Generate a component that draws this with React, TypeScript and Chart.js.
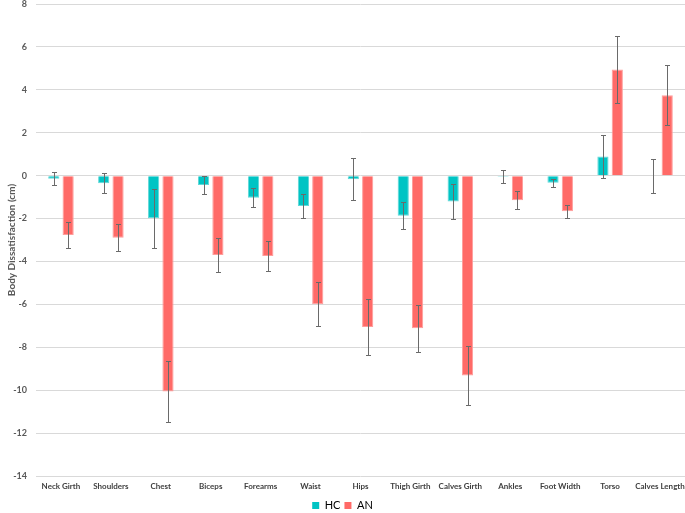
import React, { useEffect, useRef } from "react";
import { Chart, registerables } from "chart.js";

Chart.register(...registerables);

const categories = ["Neck Girth", "Shoulders", "Chest", "Biceps", "Forearms", "Waist", "Hips", "Thigh Girth", "Calves Girth", "Ankles", "Foot Width", "Torso", "Calves Length"];
const hcValues = [-0.15, -0.36, -1.99, -0.44, -1.03, -1.42, -0.17, -1.87, -1.21, -0.05, -0.33, 0.89, -0.03];
const hcErrors = [0.3, 0.47, 1.36, 0.42, 0.44, 0.56, 0.98, 0.63, 0.82, 0.31, 0.18, 1.02, 0.8];
const anValues = [-2.77, -2.89, -10.06, -3.7, -3.75, -6.0, -7.06, -7.11, -9.32, -1.15, -1.66, 4.95, 3.75];
const anErrors = [0.6, 0.64, 1.42, 0.77, 0.69, 1.03, 1.3, 1.1, 1.38, 0.42, 0.3, 1.57, 1.39];

const errorBarPlugin = {
  id: "errorBars",
  afterDatasetsDraw(chart: any) {
    const ctx = chart.ctx;
    const yScale = chart.scales.y;
    chart.data.datasets.forEach((ds: any, di: number) => {
      const meta = chart.getDatasetMeta(di);
      const errs = ds.errors as number[];
      meta.data.forEach((bar: any, i: number) => {
        const v = ds.data[i];
        const e = errs[i];
        const yTop = Math.round(yScale.getPixelForValue(v + e)) + 0.5;
        const yBot = Math.round(yScale.getPixelForValue(v - e)) + 0.5;
        const x = Math.round(bar.x) + 0.5;
        ctx.save();
        ctx.strokeStyle = "#6a6a6a";
        ctx.lineWidth = 1;
        ctx.beginPath();
        ctx.moveTo(x, yTop);
        ctx.lineTo(x, yBot);
        ctx.moveTo(x - 2.5, yTop);
        ctx.lineTo(x + 2.5, yTop);
        ctx.moveTo(x - 2.5, yBot);
        ctx.lineTo(x + 2.5, yBot);
        ctx.stroke();
        ctx.restore();
      });
    });
  },
};

function patchLegend(chart: any) {
  const legend = chart.legend;
  if (legend && !legend.__patched) {
    const orig = legend.fit;
    legend.fit = function () {
      orig.call(this);
      this.height = 17;
    };
    legend.__patched = true;
  }
}

const legendSizePlugin = {
  id: "legendSize",
  beforeInit(chart: any) {
    patchLegend(chart);
  },
  afterInit(chart: any) {
    patchLegend(chart);
  },
};

export default function App() {
  const ref = useRef<HTMLCanvasElement>(null);
  useEffect(() => {
    if (!ref.current) return;
    const font = "Lato, 'Open Sans', sans-serif";
    const chart = new Chart(ref.current, {
      type: "bar",
      data: {
        labels: categories,
        datasets: [
          { label: "HC", data: hcValues, errors: hcErrors, backgroundColor: "#00C4C4", borderColor: "#5fd8d8", borderWidth: 1 } as any,
          { label: "AN", data: anValues, errors: anErrors, backgroundColor: "#FF6A67", borderColor: "#ff9d9b", borderWidth: 1 } as any,
        ],
      },
      options: {
        animation: false,
        responsive: false,
        maintainAspectRatio: false,
        layout: { padding: 0 },
        datasets: { bar: { categoryPercentage: 0.575, barPercentage: 0.78 } },
        plugins: {
          tooltip: { enabled: false },
          legend: {
            position: "bottom",
            labels: {
              boxWidth: 7,
              boxHeight: 7,
              padding: 4,
              color: "#404040",
              font: { family: font, size: 11 },
              generateLabels(c: any) {
                return c.data.datasets.map((ds: any, i: number) => ({
                  text: ds.label,
                  fillStyle: ds.backgroundColor,
                  strokeStyle: ds.backgroundColor,
                  lineWidth: 0,
                  hidden: false,
                  datasetIndex: i,
                }));
              },
            },
          },
        },
        scales: {
          x: {
            grid: { display: false, drawTicks: false },
            border: { display: false },
            ticks: {
              color: "#404040",
              font: { family: font, size: 8, weight: "bold" },
              padding: 6,
              maxRotation: 0,
              autoSkip: false,
            },
            afterFit(scale: any) {
              scale.height = 20;
              scale.paddingLeft = 0;
              scale.paddingRight = 0;
            },
          },
          y: {
            min: -14,
            max: 8,
            grid: { color: "#d9d9d9", drawTicks: false, lineWidth: 1 },
            border: { display: false },
            ticks: {
              stepSize: 2,
              color: "#595959",
              font: { family: font, size: 9, weight: "bold" },
              padding: 9,
            },
            title: {
              display: true,
              text: "Body Dissatisfaction (cm)",
              color: "#595959",
              font: { family: font, size: 10, weight: "bold" },
              padding: { top: 6, bottom: 0 },
            },
            afterFit(scale: any) {
              scale.width = 36;
              scale.paddingTop = 4;
              scale.paddingBottom = 0;
            },
          },
        },
      },
      plugins: [errorBarPlugin, legendSizePlugin],
    } as any);
    return () => chart.destroy();
  }, []);
  return (
    <div style={{ position: "absolute", left: 0, top: 0, width: 685, height: 513, background: "#fff" }}>
      <canvas ref={ref} width={685} height={513} style={{ width: 685, height: 513 }} />
    </div>
  );
}
